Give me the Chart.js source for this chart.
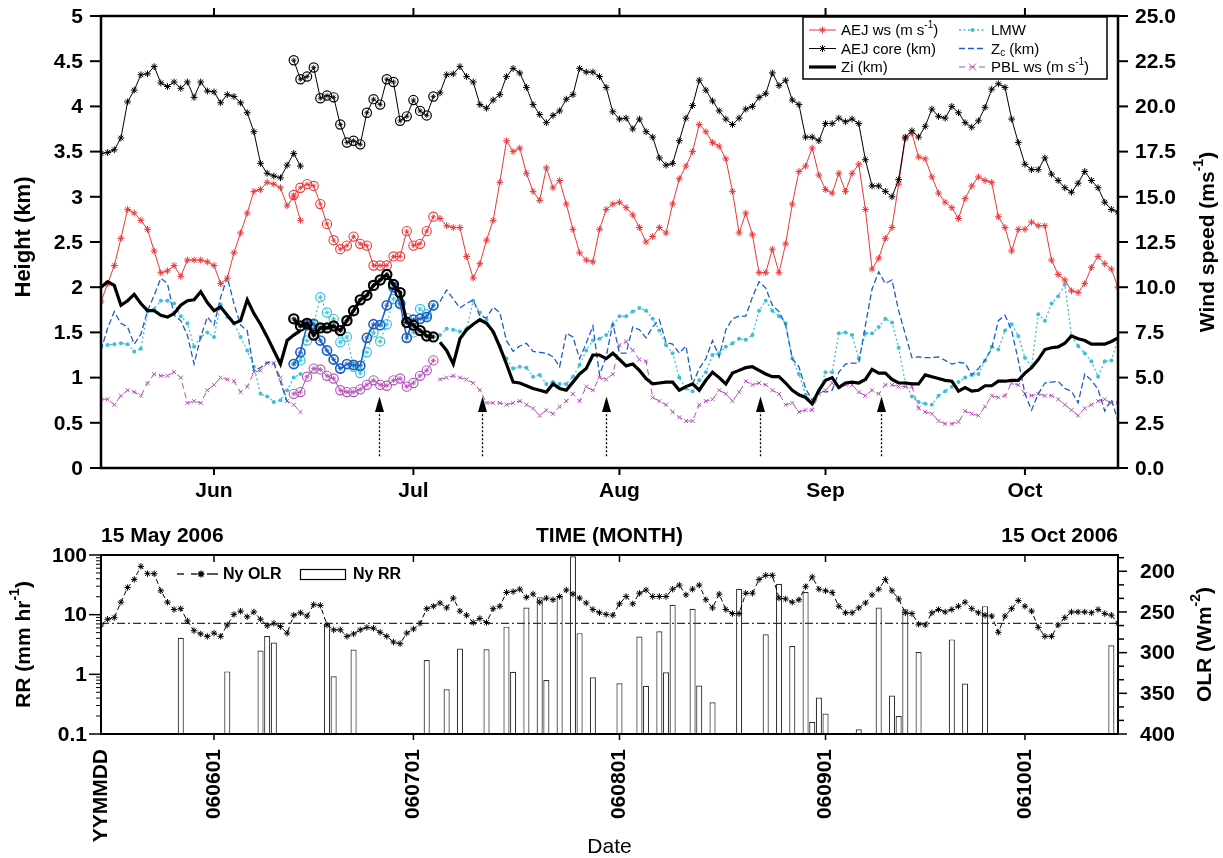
<!DOCTYPE html>
<html>
<head>
<meta charset="utf-8">
<script src="https://cdn.jsdelivr.net/npm/chart.js@4.4.1/dist/chart.umd.min.js"></script>
<style>
    body { margin: 0; background: #fff; }
    #wrap { position: relative; width: 1223px; height: 858px; }
    canvas { position: absolute; left: 0; }
</style>
</head>
<body>
<div id="wrap">
    <canvas id="topChart" width="1223" height="510" style="top:0"></canvas>
    <canvas id="rainChart" width="1223" height="348" style="top:510px"></canvas>
</div>
<script>
"use strict";

// day 0 = 15 May 2006, day 153 = 15 Oct 2006
const lastDay = 153;
const monthDays = [17, 47, 78, 109, 139];
const monthNames = ['Jun', 'Jul', 'Aug', 'Sep', 'Oct'];
const dateDays = [0, 17, 47, 78, 109, 139];
const dateLabels = ['YYMMDD', '060601', '060701', '060801', '060901', '061001'];

const heightTicks = [0, 0.5, 1, 1.5, 2, 2.5, 3, 3.5, 4, 4.5, 5];
const windTicks = [0, 2.5, 5, 7.5, 10, 12.5, 15, 17.5, 20, 22.5, 25];
const rrTicks = [0.1, 1, 10, 100];
const olrTicks = [200, 250, 300, 350, 400];
const olrMinorTicks = [183.3, 216.7, 233.3, 266.7, 283.3, 316.7, 333.3, 366.7, 383.3];

// series are split in three pieces: before, during (circled) and after the intensive period
const earlyStart = 0;
const iopStart = 29;
const lateStart = 51;

// AEJ wind speed (m/s)
const aejWsEarly = [9.2, 10.2, 11.2, 12.7, 14.3, 14.1, 13.7, 13.2, 12.0, 10.8,
    10.9, 11.2, 10.6, 11.5, 11.5, 11.5, 11.4, 11.2, 10.2, 10.5,
    11.9, 13.0, 14.1, 15.3, 15.4, 15.8, 15.7, 15.5, 14.5, 15.0, 13.7];
const aejWsIop = [15.1, 15.5, 15.7, 15.6, 14.6, 13.5, 12.6, 12.1, 12.3, 12.8, 12.4,
    12.3, 11.2, 11.2, 11.2, 11.7, 11.7, 13.1, 12.3, 12.4, 13.1, 13.9];
const aejWsLate = [13.8, 13.4, 13.3, 13.3, 11.7, 10.5, 11.3, 12.6, 13.7, 15.8,
    18.1, 17.5, 17.7, 16.3, 15.3, 14.8, 16.6, 15.5, 15.9, 14.6,
    13.2, 11.9, 11.5, 11.4, 13.2, 14.3, 14.6, 14.7, 14.4, 14.0,
    13.3, 12.5, 12.8, 13.3, 13.0, 14.6, 16.0, 16.7, 17.5, 19.0,
    18.6, 18.0, 17.8, 17.1, 15.3, 13.0, 14.1, 12.9, 10.8, 10.8,
    12.1, 10.8, 12.4, 14.6, 16.4, 16.7, 17.7, 16.2, 15.4, 15.2,
    16.3, 15.3, 16.3, 16.8, 14.3, 11.0, 11.6, 12.7, 13.3, 15.7,
    18.2, 18.5, 17.2, 17.1, 16.1, 15.2, 14.7, 14.4, 13.8, 14.9,
    15.6, 16.1, 15.9, 15.8, 13.9, 13.3, 12.0, 13.2, 13.2, 13.6,
    13.4, 13.4, 11.5, 10.7, 10.4, 9.8, 9.7, 10.2, 11.1, 11.7,
    11.3, 11.0, 10.0];

// AEJ core height (km)
const aejCoreEarly = [3.48, 3.49, 3.52, 3.65, 4.05, 4.18, 4.35, 4.36, 4.44, 4.26,
    4.22, 4.27, 4.20, 4.27, 4.10, 4.27, 4.17, 4.16, 4.04, 4.13,
    4.11, 4.04, 3.93, 3.72, 3.37, 3.26, 3.23, 3.21, 3.35, 3.48, 3.34];
const aejCoreIop = [4.51, 4.30, 4.33, 4.43, 4.09, 4.12, 4.10, 3.80, 3.60, 3.62, 3.58,
    3.93, 4.08, 4.02, 4.30, 4.27, 3.84, 3.89, 4.07, 3.95, 3.90, 4.11];
const aejCoreLate = [4.15, 4.35, 4.36, 4.44, 4.33, 4.27, 4.02, 3.98, 4.07, 4.13,
    4.33, 4.42, 4.37, 4.21, 4.02, 3.91, 3.82, 3.90, 3.95, 4.08,
    4.13, 4.42, 4.38, 4.38, 4.33, 4.21, 3.94, 3.86, 3.87, 3.75,
    3.86, 3.72, 3.66, 3.43, 3.35, 3.37, 3.62, 3.87, 4.01, 4.29,
    4.18, 4.06, 3.95, 3.86, 3.80, 3.87, 3.97, 4.00, 4.10, 4.14,
    4.37, 4.23, 4.29, 4.07, 4.02, 3.66, 3.66, 3.62, 3.81, 3.81,
    3.87, 3.83, 3.86, 3.81, 3.41, 3.12, 3.12, 3.06, 3.00, 3.19,
    3.66, 3.73, 3.66, 3.78, 3.97, 3.89, 3.87, 4.00, 3.93, 3.82,
    3.77, 3.84, 3.99, 4.19, 4.25, 4.21, 3.86, 3.60, 3.36, 3.30,
    3.30, 3.43, 3.25, 3.18, 3.10, 3.05, 3.15, 3.28, 3.18, 3.10,
    2.94, 2.86, 2.83];

// boundary layer top Zi (km)
const ziEarly = [2.00, 2.06, 2.02, 1.80, 1.85, 1.92, 1.82, 1.74, 1.74, 1.69,
    1.67, 1.71, 1.80, 1.85, 1.86, 1.95, 1.83, 1.74, 1.78, 1.69,
    1.60, 1.63, 1.86, 1.71, 1.59, 1.45, 1.30, 1.15, 1.41, 1.47, 1.52];
const ziIop = [1.65, 1.57, 1.60, 1.47, 1.55, 1.55, 1.57, 1.52, 1.63, 1.74, 1.86,
    1.91, 2.02, 2.08, 2.14, 2.03, 1.94, 1.61, 1.58, 1.52, 1.46, 1.45];
const ziLate = [1.39, 1.30, 1.15, 1.43, 1.53, 1.59, 1.64, 1.60, 1.51, 1.34,
    1.15, 0.95, 0.94, 0.91, 0.88, 0.86, 0.84, 0.93, 0.88, 0.86,
    0.95, 1.04, 1.10, 1.25, 1.25, 1.21, 1.27, 1.20, 1.13, 1.15,
    1.08, 0.99, 0.93, 0.94, 0.95, 0.95, 0.86, 0.90, 0.93, 0.86,
    0.97, 1.06, 1.00, 0.93, 1.05, 1.08, 1.11, 1.12, 1.08, 1.04,
    1.01, 1.01, 0.94, 0.86, 0.81, 0.78, 0.71, 0.86, 0.97, 1.00,
    0.89, 0.94, 0.95, 0.94, 0.98, 1.09, 1.05, 1.05, 0.98, 0.94,
    0.94, 0.93, 0.93, 1.03, 1.01, 0.99, 0.97, 0.96, 0.85, 0.89,
    0.85, 0.86, 0.91, 0.91, 0.96, 0.96, 0.97, 0.97, 1.05, 1.11,
    1.20, 1.31, 1.33, 1.34, 1.38, 1.46, 1.43, 1.41, 1.37, 1.37,
    1.37, 1.40, 1.44];

// LMW height (km)
const lmwEarly = [1.36, 1.36, 1.37, 1.38, 1.37, 1.29, 1.32, 1.73, 1.76, 1.85,
    1.85, 1.82, 1.68, 1.60, 1.34, 1.45, 1.50, 1.45, 1.81, 1.67,
    1.60, 1.45, 1.30, 1.12, 0.82, 0.79, 0.73, 0.75, 0.86, 1.00, 1.04];
const lmwIop = [1.15, 1.19, 1.41, 1.60, 1.89, 1.72, 1.65, 1.39, 1.45, 1.12, 1.05,
    1.28, 1.50, 1.40, 1.59, 1.87, 1.81, 1.66, 1.50, 1.76, 1.70, 1.80];
const lmwLate = [1.47, 1.54, 1.53, 1.51, 1.54, 1.85, 1.72, 1.64, 1.50, 1.35,
    1.21, 1.10, 1.12, 1.11, 1.01, 1.03, 0.93, 0.95, 0.93, 0.93,
    1.01, 1.14, 1.30, 1.41, 1.43, 1.47, 1.58, 1.68, 1.68, 1.73,
    1.77, 1.74, 1.65, 1.52, 1.36, 1.27, 1.00, 0.88, 0.85, 0.97,
    1.06, 1.25, 1.27, 1.34, 1.38, 1.43, 1.42, 1.47, 1.74, 1.85,
    1.74, 1.68, 1.60, 1.21, 1.04, 0.81, 0.72, 0.84, 1.06, 1.06,
    1.49, 1.50, 1.47, 1.21, 1.49, 1.49, 1.56, 1.65, 1.61, 1.33,
    0.94, 0.79, 0.73, 0.71, 0.70, 0.80, 0.85, 0.90, 0.95, 1.00,
    1.03, 1.04, 1.19, 1.34, 1.31, 1.52, 1.59, 1.46, 1.22, 1.12,
    1.70, 1.63, 1.82, 1.90, 2.03, 1.46, 1.35, 1.27, 1.18, 1.01,
    1.18, 1.19, 1.43];

// Zc height (km); the early piece ends a day sooner
const zcEarly = [1.30, 1.55, 1.73, 1.60, 1.56, 1.37, 1.48, 1.74, 1.91, 2.10,
    2.04, 1.69, 1.63, 1.47, 1.15, 1.45, 1.67, 1.58, 1.89, 2.11,
    1.82, 1.58, 1.52, 1.08, 1.11, 1.17, 1.16, 0.95, 0.73];
const zcIop = [1.15, 1.28, 1.58, 1.59, 1.41, 1.30, 1.20, 1.10, 1.15, 1.14, 1.13,
    1.44, 1.59, 1.58, 1.80, 2.00, 1.82, 1.44, 1.64, 1.65, 1.67, 1.80];
const zcLate = [1.84, 1.97, 1.87, 1.77, 1.82, 1.86, 1.68, 1.66, 1.78, 1.72,
    1.41, 1.29, 1.35, 1.38, 1.29, 1.28, 1.27, 1.23, 1.12, 1.49,
    1.45, 1.21, 1.38, 1.57, 1.03, 1.23, 1.60, 1.27, 1.27, 1.56,
    1.53, 1.44, 1.56, 1.64, 1.39, 1.37, 1.27, 1.35, 0.93, 1.10,
    1.21, 1.41, 1.23, 1.53, 1.65, 1.68, 1.68, 1.89, 2.06, 1.99,
    1.80, 1.73, 1.58, 1.21, 1.12, 0.88, 0.75, 0.86, 0.84, 0.86,
    1.06, 1.15, 1.16, 1.16, 1.58, 1.98, 2.17, 2.04, 2.08, 1.74,
    1.48, 1.22, 1.23, 1.22, 1.22, 1.23, 1.19, 1.15, 1.17, 1.16,
    1.03, 1.10, 1.19, 1.32, 1.63, 1.69, 1.52, 1.19, 0.82, 0.64,
    0.82, 0.94, 0.95, 0.96, 0.88, 0.85, 0.72, 1.04, 0.97, 0.87,
    0.63, 0.76, 0.52];

// PBL wind speed (m/s)
const pblEarly = [3.8, 3.8, 3.5, 4.0, 4.3, 4.2, 4.0, 4.7, 5.2, 5.1,
    5.1, 5.3, 5.0, 3.6, 3.7, 3.6, 4.3, 4.6, 5.0, 4.9,
    4.8, 4.2, 4.5, 5.3, 5.4, 5.8, 5.8, 5.0, 3.7, 3.5, 3.1];
const pblIop = [4.1, 4.2, 5.05, 5.5, 5.45, 5.1, 4.95, 4.3, 4.2, 4.2, 4.35,
    4.6, 4.85, 4.6, 4.55, 4.85, 4.95, 4.5, 4.7, 5.1, 5.4, 5.95];
const pblLate = [4.9, 5.0, 5.1, 5.0, 4.9, 4.7, 4.3, 3.6, 3.6, 3.6,
    3.5, 3.6, 3.7, 3.5, 3.3, 2.9, 3.2, 3.0, 3.4, 3.7,
    4.1, 3.7, 4.5, 4.3, 5.0, 4.9, 5.2, 6.8, 7.0, 6.5,
    6.0, 5.9, 3.9, 3.7, 3.5, 3.1, 2.8, 2.6, 2.6, 3.5,
    3.7, 3.8, 4.3, 4.1, 3.7, 4.2, 4.8, 4.6, 4.7, 4.6,
    4.3, 4.1, 3.5, 3.6, 3.1, 3.2, 3.2, 4.1, 4.3, 4.7,
    4.5, 4.6, 4.6, 4.2, 4.0, 4.3, 4.1, 4.6, 4.6, 4.5,
    4.5, 4.5, 3.3, 3.1, 3.0, 2.6, 2.45, 2.45, 2.55, 3.15,
    3.0, 2.9, 3.4, 4.0, 3.9, 4.0, 4.7, 4.6, 4.1, 4.0,
    4.1, 4.0, 4.0, 3.8, 3.5, 3.2, 2.9, 3.3, 3.5, 3.7,
    3.8, 3.6, 3.6];

// dates marked with arrows
const arrowDays = [41.8, 57.3, 76, 99.1, 117.3];

// Niamey OLR (W/m2), one value a day
const olr = [266, 259, 257, 238, 220, 210, 194, 203, 203, 224,
    238, 247, 246, 261, 273, 277, 280, 276, 280, 266,
    253, 249, 256, 250, 259, 267, 264, 268, 276, 254,
    251, 255, 241, 242, 266, 272, 272, 280, 277, 272,
    269, 270, 275, 280, 287, 289, 276, 271, 264, 246,
    243, 239, 245, 233, 249, 254, 263, 258, 263, 246,
    243, 226, 225, 222, 232, 228, 238, 233, 235, 231,
    223, 228, 233, 239, 247, 251, 253, 254, 240, 231,
    240, 227, 223, 231, 231, 231, 222, 217, 229, 222,
    217, 235, 245, 228, 247, 252, 252, 227, 227, 210,
    205, 205, 233, 234, 238, 235, 219, 207, 222, 224,
    226, 243, 251, 251, 245, 239, 229, 222, 210, 224,
    234, 251, 252, 265, 266, 251, 247, 250, 247, 243,
    238, 246, 251, 254, 255, 275, 255, 246, 236, 243,
    249, 269, 280, 280, 266, 257, 250, 250, 250, 251,
    247, 252, 254, 264];
const olrThreshold = 264;

// Niamey rain rate (mm/hr) on rainy days
const rrDays = [12, 19, 24, 25, 26, 34, 35, 38, 49, 52,
    54, 58, 61, 62, 64, 66, 67, 69, 71, 72,
    74, 78, 81, 82, 84, 85, 86, 89, 90, 92,
    96, 100, 102, 104, 106, 107, 108, 109, 114, 117,
    119, 120, 121, 123, 128, 130, 133, 152];
const rrValues = [4.1, 1.12, 2.5, 4.4, 3.4, 7.1, 0.93, 2.6, 1.74, 0.56,
    2.7, 2.64, 6.3, 1.1, 13.2, 19.5, 0.8, 20.5, 95, 4.9,
    0.89, 0.71, 4.3, 0.64, 5.25, 1.08, 14.7, 12.6, 0.65, 0.34,
    27.2, 4.7, 33, 2.98, 24, 0.16, 0.41, 0.22, 0.12, 13.2,
    0.44, 0.2, 12.3, 2.37, 3.85, 0.70, 13.9, 3.06];

const FAMILY = '"Liberation Sans", Arial, Helvetica, sans-serif';
const RED = '#e8373a';
const CYAN = '#3dbfd8';
const BLUE = '#1e5fbf';
const PURPLE = '#b150b5';

function seg(start, values) {
    return values.map((v, i) => ({ x: start + i, y: v }));
}

function lineSet(opts) {
    return Object.assign({
        type: 'line', fill: false, tension: 0, spanGaps: false,
        borderWidth: 1, pointRadius: 0, pointBorderWidth: 1
    }, opts);
}

// circled points of the intensive period: a ring plus a small star inside
function circledSets(data, color, axis, lineWidth, dash, ringWidth) {
    return [
        lineSet({ data, yAxisID: axis, borderColor: color, borderWidth: lineWidth, borderDash: dash,
            pointStyle: 'circle', pointRadius: 4.6, pointBorderColor: color, pointBorderWidth: ringWidth,
            pointBackgroundColor: 'rgba(255,255,255,0)' }),
        lineSet({ data, yAxisID: axis, showLine: false, pointStyle: 'star', pointRadius: 2.6,
            pointBorderColor: color, pointBorderWidth: 0.8 })
    ];
}

function tick(ctx, x1, y1, x2, y2) {
    ctx.beginPath();
    ctx.moveTo(x1, y1);
    ctx.lineTo(x2, y2);
    ctx.stroke();
}

// text pieces: [text, ''|'sup'|'sub']
function richWidth(ctx, parts, size, weight) {
    let w = 0;
    for (const [t, k] of parts) {
        ctx.font = `${weight} ${k ? Math.round(size * 0.68) : size}px ${FAMILY}`;
        w += ctx.measureText(t).width;
    }
    return w;
}

function drawRich(ctx, parts, x, y, size, weight, align) {
    const w = richWidth(ctx, parts, size, weight);
    let cx = align === 'center' ? x - w / 2 : (align === 'right' ? x - w : x);
    ctx.textAlign = 'left';
    for (const [t, k] of parts) {
        ctx.font = `${weight} ${k ? Math.round(size * 0.68) : size}px ${FAMILY}`;
        const dy = k === 'sup' ? -size * 0.4 : (k === 'sub' ? size * 0.25 : 0);
        ctx.fillText(t, cx, y + dy);
        cx += ctx.measureText(t).width;
    }
}

function verticalTitle(ctx, parts, cx, cy, size) {
    ctx.save();
    ctx.translate(cx, cy);
    ctx.rotate(-Math.PI / 2);
    ctx.textBaseline = 'middle';
    drawRich(ctx, parts, 0, 0, size, 'bold', 'center');
    ctx.restore();
}

// tick marks with labels along a vertical axis
function axisLabels(ctx, scale, values, x, align, fmt) {
    ctx.textAlign = align;
    ctx.textBaseline = 'middle';
    ctx.font = `bold 21px ${FAMILY}`;
    for (const v of values) {
        ctx.fillText(fmt(v), x, scale.getPixelForValue(v) + 1);
    }
}

function marker(ctx, style, x, y, r) {
    ctx.beginPath();
    if (style === 'star') {
        for (let k = 0; k < 4; k++) {
            const a = k * Math.PI / 4;
            ctx.moveTo(x - r * Math.cos(a), y - r * Math.sin(a));
            ctx.lineTo(x + r * Math.cos(a), y + r * Math.sin(a));
        }
        ctx.stroke();
    } else if (style === 'cross') {
        ctx.moveTo(x - r, y - r); ctx.lineTo(x + r, y + r);
        ctx.moveTo(x - r, y + r); ctx.lineTo(x + r, y - r);
        ctx.stroke();
    } else if (style === 'dot') {
        ctx.arc(x, y, r, 0, Math.PI * 2);
        ctx.fill();
    }
}

const topLegendItems = [
    { col: 0, row: 0, color: RED, width: 1, dash: [], mark: 'star', text: [['AEJ ws (m s', ''], ['-1', 'sup'], [')', '']] },
    { col: 0, row: 1, color: '#000', width: 1, dash: [], mark: 'star', text: [['AEJ core (km)', '']] },
    { col: 0, row: 2, color: '#000', width: 3.2, dash: [], mark: null, text: [['Zi (km)', '']] },
    { col: 1, row: 0, color: CYAN, width: 1.3, dash: [2, 2.5], mark: 'dot', text: [['LMW', '']] },
    { col: 1, row: 1, color: BLUE, width: 1.3, dash: [6, 3], mark: null, text: [['Z', ''], ['c', 'sub'], [' (km)', '']] },
    { col: 1, row: 2, color: PURPLE, width: 1, dash: [6, 4], mark: 'cross', text: [['PBL ws (m s', ''], ['-1', 'sup'], [')', '']] }
];

const topDecor = {
    id: 'topDecor',
    afterDraw(chart) {
        const { ctx, chartArea: a, scales } = chart;
        const xs = scales.x, ys = scales.y, ys2 = scales.y2;
        ctx.save();
        ctx.strokeStyle = '#000';
        ctx.fillStyle = '#000';

        // dotted arrows
        for (const d of arrowDays) {
            const px = Math.round(xs.getPixelForValue(d)) + 0.5;
            const yb = ys.getPixelForValue(0.13);
            const yh = ys.getPixelForValue(0.62);
            const yt = ys.getPixelForValue(0.79);
            ctx.lineWidth = 1.3;
            ctx.setLineDash([2, 2]);
            tick(ctx, px, yb, px, yh);
            ctx.setLineDash([]);
            ctx.beginPath();
            ctx.moveTo(px, yt);
            ctx.lineTo(px - 4.5, yh);
            ctx.lineTo(px + 4.5, yh);
            ctx.closePath();
            ctx.fill();
        }

        // frame
        ctx.lineWidth = 2.5;
        ctx.strokeRect(a.left, a.top, a.right - a.left, a.bottom - a.top);

        // axis ticks and labels
        ctx.lineWidth = 2;
        for (const v of heightTicks) {
            const py = ys.getPixelForValue(v);
            tick(ctx, a.left - 11, py, a.left, py);
        }
        for (const v of windTicks) {
            const py = ys2.getPixelForValue(v);
            tick(ctx, a.right, py, a.right + 10, py);
        }
        axisLabels(ctx, ys, heightTicks, a.left - 18, 'right', v => String(v));
        axisLabels(ctx, ys2, windTicks, a.right + 17, 'left', v => v.toFixed(1));

        ctx.textAlign = 'center';
        ctx.textBaseline = 'alphabetic';
        ctx.font = `bold 21px ${FAMILY}`;
        monthDays.forEach((d, i) => {
            const px = xs.getPixelForValue(d);
            tick(ctx, px, a.bottom, px, a.bottom + 7);
            tick(ctx, px, a.top - 8, px, a.top);
            ctx.fillText(monthNames[i], px, a.bottom + 29);
        });

        // axis titles
        verticalTitle(ctx, [['Height (km)', '']], 24, 237, 22);
        verticalTitle(ctx, [['Wind speed (ms', ''], ['-1', 'sup'], [')', '']], 1208, (a.top + a.bottom) / 2, 21);

        // legend
        const bx = 803, by = 17, bw = 304, bh = 62;
        ctx.fillStyle = '#fff';
        ctx.fillRect(bx, by, bw, bh);
        ctx.lineWidth = 1.5;
        ctx.strokeStyle = '#000';
        ctx.strokeRect(bx, by, bw, bh);
        ctx.textBaseline = 'middle';
        for (const it of topLegendItems) {
            const sx = it.col === 0 ? 809 : 959;
            const ly = by + 13 + it.row * 18.5;
            ctx.strokeStyle = it.color;
            ctx.fillStyle = it.color;
            ctx.lineWidth = it.width;
            ctx.setLineDash(it.dash);
            tick(ctx, sx, ly, sx + 27, ly);
            ctx.setLineDash([]);
            ctx.lineWidth = 1;
            if (it.mark) marker(ctx, it.mark, sx + 13.5, ly, it.mark === 'dot' ? 2 : 3.5);
            ctx.fillStyle = '#000';
            drawRich(ctx, it.text, sx + 32, ly + 1, 15, 'normal', 'left');
        }
        ctx.restore();
    }
};

const rainDecor = {
    id: 'rainDecor',
    afterDraw(chart) {
        const { ctx, chartArea: a, scales } = chart;
        const xs = scales.x, ys = scales.y, ys2 = scales.y2;
        ctx.save();
        ctx.strokeStyle = '#000';
        ctx.fillStyle = '#000';

        ctx.lineWidth = 2;
        ctx.strokeRect(a.left, a.top, a.right - a.left, a.bottom - a.top);

        // log ticks for rain rate, with minor ticks inside each decade
        ctx.lineWidth = 1.5;
        for (const v of rrTicks) {
            const py = ys.getPixelForValue(v);
            tick(ctx, a.left - 12, py, a.left, py);
        }
        ctx.lineWidth = 1;
        for (let p = -1; p < 2; p++) {
            for (let m = 2; m <= 9; m++) {
                const py = ys.getPixelForValue(m * Math.pow(10, p));
                tick(ctx, a.left - 5, py, a.left, py);
            }
        }
        // OLR ticks
        ctx.lineWidth = 1.5;
        for (const v of olrTicks) {
            const py = ys2.getPixelForValue(v);
            tick(ctx, a.right, py, a.right + 9, py);
        }
        for (const v of olrMinorTicks) {
            const py = ys2.getPixelForValue(v);
            tick(ctx, a.right, py, a.right + 6, py);
        }
        axisLabels(ctx, ys, rrTicks, a.left - 14, 'right', v => String(v));
        axisLabels(ctx, ys2, olrTicks, a.right + 22, 'left', v => String(v));

        // date ticks and rotated labels
        ctx.font = `bold 21px ${FAMILY}`;
        dateDays.forEach((d, i) => {
            const px = xs.getPixelForValue(d);
            if (d > 0) {
                tick(ctx, px, a.top, px, a.top + 7);
                tick(ctx, px, a.bottom, px, a.bottom + 6);
            }
            ctx.save();
            ctx.translate(px, a.bottom + 15);
            ctx.rotate(-Math.PI / 2);
            ctx.textAlign = 'right';
            ctx.textBaseline = 'middle';
            ctx.fillText(dateLabels[i], 0, 0);
            ctx.restore();
        });

        // header line
        ctx.textBaseline = 'alphabetic';
        ctx.font = `bold 21px ${FAMILY}`;
        ctx.textAlign = 'left';
        ctx.fillText('15 May 2006', a.left, 32);
        ctx.textAlign = 'center';
        ctx.fillText('TIME (MONTH)', (a.left + a.right) / 2, 32);
        ctx.textAlign = 'right';
        ctx.fillText('15 Oct 2006', a.right, 32);

        ctx.textAlign = 'center';
        ctx.font = `21px ${FAMILY}`;
        ctx.fillText('Date', (a.left + a.right) / 2, 343);

        verticalTitle(ctx, [['RR (mm hr', ''], ['-1', 'sup'], [')', '']], 24, (a.top + a.bottom) / 2, 21);
        verticalTitle(ctx, [['OLR (Wm', ''], ['-2', 'sup'], [')', '']], 1205, (a.top + a.bottom) / 2, 21);

        // legend
        const ly = a.top + 19;
        ctx.strokeStyle = '#000';
        ctx.lineWidth = 1.3;
        tick(ctx, 177, ly, 184, ly);
        tick(ctx, 191, ly, 197, ly);
        tick(ctx, 207, ly, 218, ly);
        marker(ctx, 'star', 201, ly, 3.5);
        ctx.font = `bold 16px ${FAMILY}`;
        ctx.textAlign = 'left';
        ctx.textBaseline = 'middle';
        ctx.fillText('Ny OLR', 223, ly + 1);
        ctx.lineWidth = 1.2;
        ctx.strokeRect(300.5, ly - 4.5, 45, 10);
        ctx.fillText('Ny RR', 353, ly + 1);
        ctx.restore();
    }
};

const hiddenAxis = {
    grid: { display: false, drawTicks: false },
    border: { display: false },
    ticks: { display: false }
};

new Chart(document.getElementById('topChart'), {
    type: 'line',
    data: {
        datasets: [
            lineSet({ data: seg(earlyStart, ziEarly), yAxisID: 'y', borderColor: '#000', borderWidth: 3.2 }),
            lineSet({ data: seg(lateStart, ziLate), yAxisID: 'y', borderColor: '#000', borderWidth: 3.2 }),
            ...circledSets(seg(iopStart, ziIop), '#000', 'y', 3.2, [], 2.2),
            lineSet({ data: seg(earlyStart, aejCoreEarly), yAxisID: 'y', borderColor: '#000',
                pointStyle: 'star', pointRadius: 3.4, pointBorderColor: '#000' }),
            lineSet({ data: seg(lateStart, aejCoreLate), yAxisID: 'y', borderColor: '#000',
                pointStyle: 'star', pointRadius: 3.4, pointBorderColor: '#000' }),
            ...circledSets(seg(iopStart, aejCoreIop), '#000', 'y', 1, [], 1.2),
            lineSet({ data: seg(earlyStart, aejWsEarly), yAxisID: 'y2', borderColor: RED,
                pointStyle: 'star', pointRadius: 3.4, pointBorderColor: RED }),
            lineSet({ data: seg(lateStart, aejWsLate), yAxisID: 'y2', borderColor: RED,
                pointStyle: 'star', pointRadius: 3.4, pointBorderColor: RED }),
            ...circledSets(seg(iopStart, aejWsIop), RED, 'y2', 1, [], 1.1),
            ...circledSets(seg(iopStart, zcIop), BLUE, 'y', 1.6, [], 1.6),
            lineSet({ data: seg(earlyStart, zcEarly), yAxisID: 'y', borderColor: BLUE, borderWidth: 1.3, borderDash: [6, 3] }),
            lineSet({ data: seg(lateStart, zcLate), yAxisID: 'y', borderColor: BLUE, borderWidth: 1.3, borderDash: [6, 3] }),
            ...circledSets(seg(iopStart, lmwIop), CYAN, 'y', 1.2, [2, 2.5], 1.2),
            lineSet({ data: seg(earlyStart, lmwEarly), yAxisID: 'y', borderColor: CYAN, borderWidth: 1.3, borderDash: [2, 2.5],
                pointStyle: 'circle', pointRadius: 2, pointBorderWidth: 0, pointBackgroundColor: CYAN }),
            lineSet({ data: seg(lateStart, lmwLate), yAxisID: 'y', borderColor: CYAN, borderWidth: 1.3, borderDash: [2, 2.5],
                pointStyle: 'circle', pointRadius: 2, pointBorderWidth: 0, pointBackgroundColor: CYAN }),
            ...circledSets(seg(iopStart, pblIop), PURPLE, 'y2', 1, [], 1.1),
            lineSet({ data: seg(earlyStart, pblEarly), yAxisID: 'y2', borderColor: PURPLE, borderDash: [6, 4],
                pointStyle: 'crossRot', pointRadius: 2.8, pointBorderColor: PURPLE }),
            lineSet({ data: seg(lateStart, pblLate), yAxisID: 'y2', borderColor: PURPLE, borderDash: [6, 4],
                pointStyle: 'crossRot', pointRadius: 2.8, pointBorderColor: PURPLE })
        ]
    },
    options: {
        responsive: false,
        animation: false,
        events: [],
        layout: { padding: { top: 16, left: 0, right: 0, bottom: 0 } },
        plugins: { legend: { display: false }, tooltip: { enabled: false } },
        scales: {
            x: Object.assign({ type: 'linear', min: 0, max: lastDay, afterFit: s => { s.height = 42; } }, hiddenAxis),
            y: Object.assign({ type: 'linear', position: 'left', min: 0, max: 5, afterFit: s => { s.width = 101; } }, hiddenAxis),
            y2: Object.assign({ type: 'linear', position: 'right', min: 0, max: 25, afterFit: s => { s.width = 105; } }, hiddenAxis)
        }
    },
    plugins: [topDecor]
});

new Chart(document.getElementById('rainChart'), {
    data: {
        datasets: [
            lineSet({ label: 'Ny OLR', data: seg(0, olr), yAxisID: 'y2', borderColor: '#000', borderDash: [5, 3],
                pointStyle: 'star', pointRadius: 3.2, pointBorderColor: '#000' }),
            lineSet({ label: 'threshold', data: [{ x: 0, y: olrThreshold }, { x: lastDay, y: olrThreshold }],
                yAxisID: 'y2', borderColor: '#333', borderWidth: 1.2, borderDash: [8, 3, 2, 3] }),
            {
                type: 'bar', label: 'Ny RR', yAxisID: 'y',
                data: rrDays.map((d, i) => ({ x: d, y: rrValues[i] })),
                backgroundColor: '#fff', borderColor: '#333', borderWidth: 1.2,
                barPercentage: 1, categoryPercentage: 0.92
            }
        ]
    },
    options: {
        responsive: false,
        animation: false,
        events: [],
        layout: { padding: { top: 45, left: 0, right: 0, bottom: 0 } },
        plugins: { legend: { display: false }, tooltip: { enabled: false } },
        scales: {
            x: Object.assign({ type: 'linear', min: 0, max: lastDay, offset: false, afterFit: s => { s.height = 124; } }, hiddenAxis),
            y: Object.assign({ type: 'logarithmic', position: 'left', min: 0.1, max: 100, afterFit: s => { s.width = 101; } }, hiddenAxis),
            y2: Object.assign({ type: 'linear', position: 'right', min: 180, max: 400, reverse: true, afterFit: s => { s.width = 105; } }, hiddenAxis)
        }
    },
    plugins: [rainDecor]
});
</script>
</body>
</html>
